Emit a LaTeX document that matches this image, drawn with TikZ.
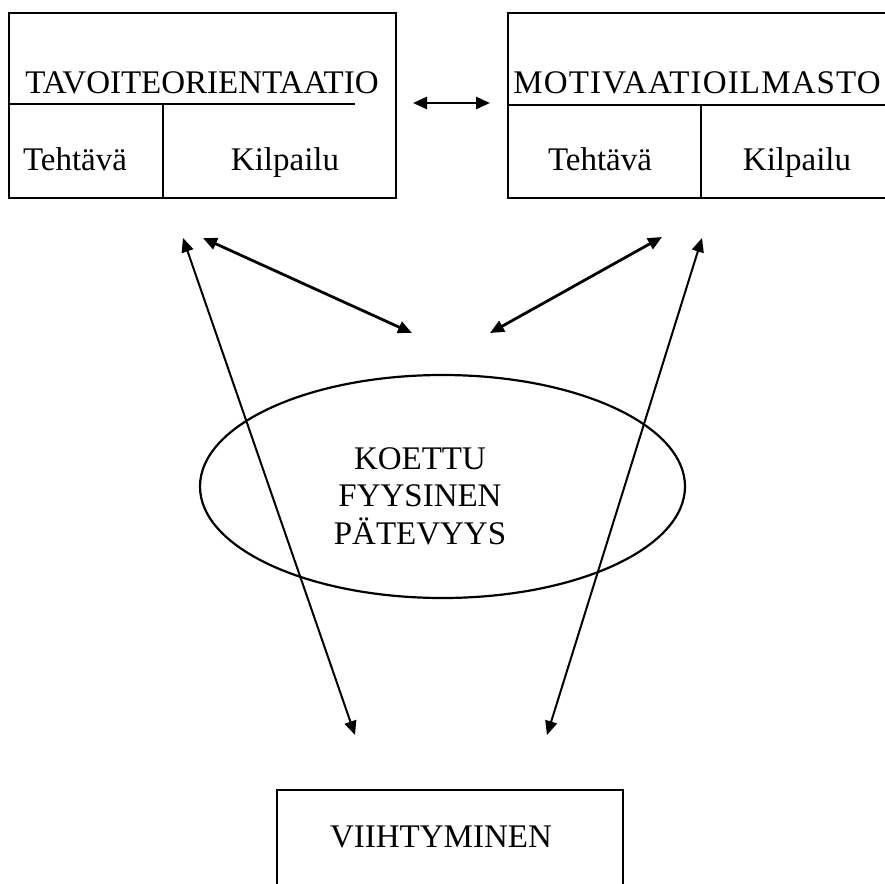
\documentclass[tikz,border=0pt]{standalone}
\usepackage{fontspec}
\setmainfont{Liberation Serif}
\newfontfamily\widefont[LetterSpace=3.5]{Liberation Serif}
\usetikzlibrary{arrows.meta,shapes.geometric}
\tikzset{
  lbl/.style={font=\fontsize{16.5}{18.75}\selectfont, inner sep=0pt},
  box/.style={draw, line width=1pt, inner sep=0pt, outer sep=0pt},
  link/.style={{Triangle[length=7pt,width=6pt]}-{Triangle[length=7pt,width=6pt]}, line width=1.4pt},
  longlink/.style={link, line width=1pt}
}
\begin{document}
\begin{tikzpicture}[x=0.5pt,y=-0.5pt]
  \clip (0,0) rectangle (885,884);
  % boxes
  \node[box, minimum width=193.5pt, minimum height=92.5pt] (tavoite) at (202.5,105.5) {};
  \node[box, minimum width=193.5pt, minimum height=92.5pt] (ilmasto) at (701.5,105.5) {};
  \node[box, minimum width=173pt, minimum height=60pt] (viihtyminen) at (450,850) {};
  \node[draw, ellipse, line width=1.1pt, minimum width=242.5pt, minimum height=111.5pt, inner sep=0pt] (koettu) at (442.5,486.5) {};
  % dividers
  \draw[line width=1pt] (tavoite.west |- 0,104) -- (355,104)
        (163,104) -- (163,198);
  \draw[line width=1pt] (ilmasto.west |- 0,105) -- (ilmasto.east |- 0,105)
        (701,105) -- (701,198);
  % texts
  \node[lbl, anchor=base] (tavoitetxt) at (202,93) {TAVOITEORIENTAATIO};
  \node[lbl, anchor=base] (tehtava1) at (75,170) {Tehtävä};
  \node[lbl, anchor=base] (kilpailu1) at (285,170) {Kilpailu};
  \node[lbl, anchor=base west] (ilmastotxt) at (513,93) {\widefont MOTIVAATIOILMASTO};
  \node[lbl, anchor=base] (tehtava2) at (600,170) {Tehtävä};
  \node[lbl, anchor=base] (kilpailu2) at (797,170) {Kilpailu};
  \node[lbl, align=center] (koettutxt) at (420,496) {KOETTU\\FYYSINEN\\PÄTEVYYS};
  \node[lbl, anchor=base] (viihtyminentxt) at (441,847) {VIIHTYMINEN};
  % arrow ends
  \coordinate (tav-left) at (413,103);
  \coordinate (ilm-right) at (490,103);
  \coordinate (tav-down) at (183,238);
  \coordinate (tav-side) at (203,238);
  \coordinate (ilm-side) at (662,237);
  \coordinate (ilm-down) at (702,238);
  \coordinate (koe-left) at (412,333);
  \coordinate (koe-right) at (490,333);
  \coordinate (vii-left) at (355,735);
  \coordinate (vii-right) at (547,735);
  \path[link]
    (tav-left) edge[line width=1.3pt] (ilm-right)
    (tav-side) edge (koe-left)
    (ilm-side) edge (koe-right);
  \path[longlink]
    (tav-down) edge (vii-left)
    (ilm-down) edge (vii-right);
\end{tikzpicture}
\end{document}
